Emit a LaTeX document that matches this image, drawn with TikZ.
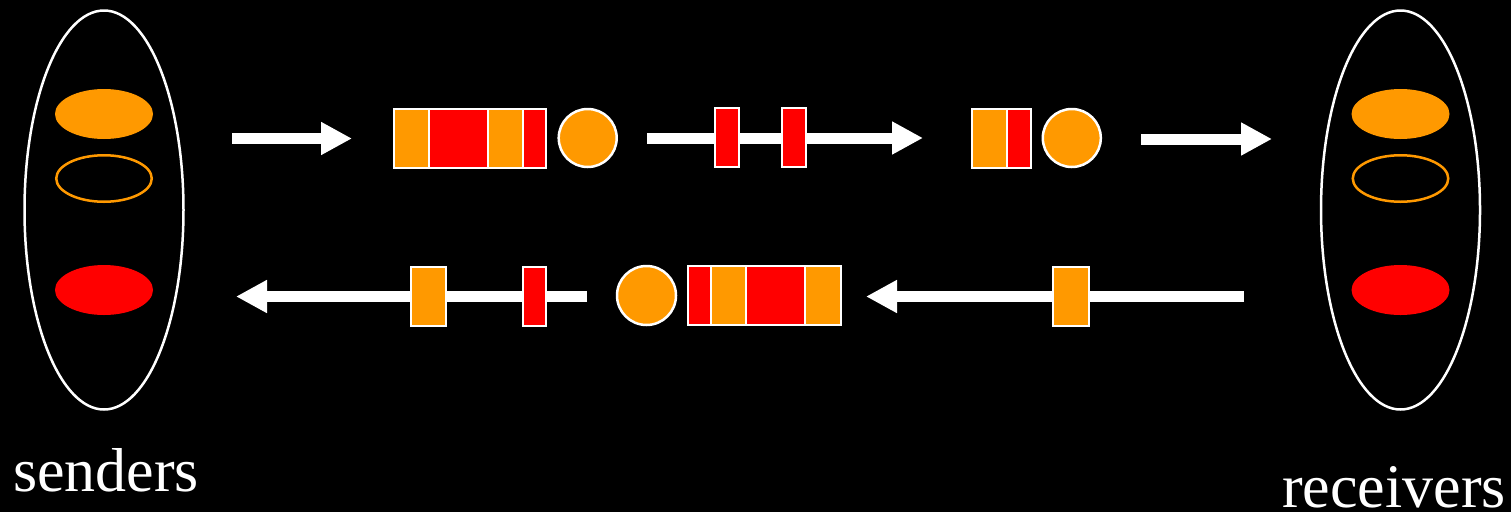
\documentclass[tikz,border=0pt]{standalone}
\usepackage{fontspec}
\setmainfont{Liberation Serif}
\usetikzlibrary{shapes.geometric,arrows.meta}
\definecolor{orng}{HTML}{FF9900}
\definecolor{rd}{HTML}{FF0000}
\tikzset{
  pkt/.style={rectangle, draw=white, line width=2pt, inner sep=0pt, minimum height=59pt},
  token/.style={circle, draw=white, line width=2.5pt, fill=orng, inner sep=0pt, minimum size=58pt},
  group/.style={ellipse, draw=white, line width=2.5pt, inner sep=0pt, minimum width=159pt, minimum height=399pt},
  member/.style={ellipse, inner sep=0pt, minimum width=98pt, minimum height=50pt},
  hollow/.style={ellipse, draw=orng, line width=2.5pt, inner sep=0pt, minimum width=95.5pt, minimum height=46.5pt},
  flow/.style={draw=white, line width=11pt, -{Triangle[length=31pt, width=31pt]}},
  caption/.style={text=white, font=\fontsize{62}{70}\selectfont, inner sep=0pt, anchor=base}
}
\begin{document}
\begin{tikzpicture}[x=1pt, y=-1pt]
  \fill[black] (0,0) rectangle (1511,512);
  \useasboundingbox (0,0) rectangle (1511,512);

  % sender group
  \node[group] (snd) at (104,210) {};
  \node[member, fill=orng] (s1) at (104,114) {};
  \node[hollow] (s2) at (104,178.5) {};
  \node[member, fill=rd] (s3) at (104,290) {};
  \node[caption] (sndlbl) at (106,491) {senders};

  % receiver group
  \node[group] (rcv) at (1400.5,210) {};
  \node[member, fill=orng] (r1) at (1400.5,114) {};
  \node[hollow] (r2) at (1400.5,178.5) {};
  \node[member, fill=rd] (r3) at (1400.5,290) {};
  \node[caption] (rcvlbl) at (1394,507) {receivers};

  % arrow end points
  \coordinate (a1s) at (232,138.5);
  \coordinate (a1e) at (352,138.5);
  \coordinate (a2s) at (647,138);
  \coordinate (a2e) at (923,138);
  \coordinate (a3s) at (1141,139);
  \coordinate (a3e) at (1272,139);
  \coordinate (b1s) at (1244,296.5);
  \coordinate (b1e) at (866,296.5);
  \coordinate (b2s) at (587,296.5);
  \coordinate (b2e) at (236,296.5);

  \draw[flow] (a1s) -- (a1e);
  \draw[flow] (a2s) -- (a2e);
  \draw[flow] (a3s) -- (a3e);
  \draw[flow] (b1s) -- (b1e);
  \draw[flow] (b2s) -- (b2e);

  % top row: outgoing queue
  \node[pkt, fill=orng, minimum width=35pt] (q1a) at (411.5,138.5) {};
  \node[pkt, fill=rd,   minimum width=59pt] (q1b) at (458.5,138.5) {};
  \node[pkt, fill=orng, minimum width=35pt] (q1c) at (505.5,138.5) {};
  \node[pkt, fill=rd,   minimum width=23pt] (q1d) at (534.5,138.5) {};
  \node[token] (c1) at (587.7,138) {};

  % packets in flight
  \node[pkt, fill=rd, minimum width=24pt] (m1) at (727.3,137.5) {};
  \node[pkt, fill=rd, minimum width=24pt] (m2) at (793.5,137.5) {};

  % top row: arriving queue
  \node[pkt, fill=orng, minimum width=35.3pt] (q2a) at (989.3,138.2) {};
  \node[pkt, fill=rd,   minimum width=24pt]   (q2b) at (1019,138.2) {};
  \node[token] (c2) at (1071.8,138) {};

  % bottom row: return packets
  \node[pkt, fill=orng, minimum width=35.7pt] (p1) at (1071.2,296.2) {};

  \node[pkt, fill=rd,   minimum width=23.3pt] (q3a) at (699.7,295.8) {};
  \node[pkt, fill=orng, minimum width=35pt]   (q3b) at (728.8,295.8) {};
  \node[pkt, fill=rd,   minimum width=59pt]   (q3c) at (775.8,295.8) {};
  \node[pkt, fill=orng, minimum width=36pt]   (q3d) at (823.3,295.8) {};
  \node[token, minimum size=59pt] (c3) at (646.5,295.5) {};

  \node[pkt, fill=orng, minimum width=35.3pt] (p2) at (428.7,296.2) {};
  \node[pkt, fill=rd,   minimum width=23.3pt] (p3) at (534.3,296.2) {};
\end{tikzpicture}
\end{document}
